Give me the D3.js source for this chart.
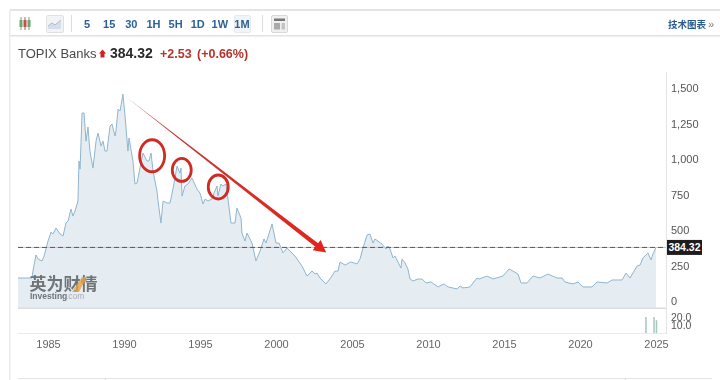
<!DOCTYPE html>
<html>
<head>
<meta charset="utf-8">
<script src="https://cdn.jsdelivr.net/npm/d3@7"></script>
<style>
  html, body { margin: 0; padding: 0; background: #fff; }
  svg { display: block; font-family: "Liberation Sans", Arial, sans-serif; filter: blur(0.35px); }
</style>
</head>
<body>
<div id="chart"></div>
<script>
const years = [1983.03,1983.95,1984.01,1984.21,1984.34,1984.61,1984.74,1985,1985.2,1985.33,1985.53,1985.79,1985.99,1986.18,1986.32,1986.51,1986.64,1986.78,1986.97,1987.04,1987.11,1987.24,1987.37,1987.5,1987.63,1987.76,1987.96,1988.16,1988.29,1988.49,1988.62,1988.75,1988.88,1989.08,1989.21,1989.41,1989.47,1989.61,1989.74,1989.93,1990.07,1990.26,1990.33,1990.59,1990.72,1990.86,1991.05,1991.25,1991.51,1991.64,1991.78,1991.91,1992.17,1992.24,1992.43,1992.57,1992.83,1993.03,1993.22,1993.49,1993.68,1993.75,1993.82,1994.01,1994.21,1994.47,1994.8,1995,1995.2,1995.33,1995.53,1995.79,1995.92,1996.12,1996.18,1996.38,1996.51,1996.71,1996.84,1997.04,1997.3,1997.43,1997.7,1997.76,1997.96,1998.09,1998.42,1998.68,1998.95,1999.21,1999.34,1999.74,2000,2000.2,2000.46,2000.72,2001.25,2001.71,2002.04,2002.37,2002.57,2002.7,2002.89,2003.29,2003.68,2003.88,2004.08,2004.21,2004.54,2004.93,2005.33,2005.53,2005.72,2005.99,2006.18,2006.38,2006.51,2006.97,2007.24,2007.37,2007.5,2007.7,2007.83,2008.22,2008.29,2008.49,2008.68,2008.82,2009.01,2009.34,2009.61,2009.87,2010.2,2010.66,2011.05,2011.32,2011.91,2012.11,2012.3,2012.76,2013.22,2013.36,2013.88,2014.28,2014.93,2015.33,2015.59,2015.92,2016.12,2016.51,2016.91,2017.37,2017.89,2018.49,2018.82,2019.01,2019.54,2019.87,2020.2,2020.79,2021.12,2021.78,2022.11,2022.76,2023.03,2023.29,2023.75,2023.95,2024.14,2024.47,2024.67,2024.8,2025]
const prices = [169,169,218,331,303,289,324,429,493,479,521,479,465,556,570,655,605,641,711,993,936,1331,1331,1133,1232,1063,943,1133,1190,1098,1133,1063,1063,1239,1253,1169,1204,1359,1345,1464,1309,1063,1155,993,831,838,943,1049,993,993,1049,922,781,711,556,711,697,697,796,957,908,943,746,817,831,873,796,767,690,725,711,725,767,817,746,831,817,831,725,556,556,662,591,486,429,486,415,289,359,444,415,549,415,415,345,380,324,253,183,218,197,204,169,127,183,218,218,282,260,282,268,303,380,472,479,415,444,408,373,394,373,310,324,239,303,275,232,162,148,162,162,134,141,106,127,106,92,113,99,106,169,162,183,162,183,232,218,197,134,134,183,169,197,169,169,141,127,141,106,106,141,134,155,155,204,169,253,260,310,345,296,338,384.32]

const volumeYears = [2024.34, 2024.87, 2025.03]
const volumes = [20, 20, 16]

const priceTicks = [0, 250, 500, 750, 1000, 1250, 1500]
const volumeTicks = [10, 20]
const yearTicks = [1985, 1990, 1995, 2000, 2005, 2010, 2015, 2020, 2025]
const intervals = ["5", "15", "30", "1H", "5H", "1D", "1W", "1M"]

const lastPrice = 384.32
const circleYears = [1991.85, 1993.8, 1996.2]
const circleValues = [1030, 930, 810]
const arrowFrom = [1989.95, 1460]
const arrowTo = [2003.3, 349]

const w = 720, h = 380
const svg = d3.select("#chart").append("svg").attr("width", w).attr("height", h)

const x = d3.scaleLinear([1985, 2025], [48, 656])
const y = d3.scaleLinear([0, 1500], [302, 89])
const yVol = d3.scaleLinear([0, 20], [333, 317])

const plotLeft = 18, plotRight = 666, plotBottom = 308

// frame and toolbar
svg.append("rect").attr("x", 10).attr("y", 9).attr("width", 710).attr("height", 2).attr("fill", "#e4e4e4")
svg.append("rect").attr("x", 10).attr("y", 35).attr("width", 710).attr("height", 1.5).attr("fill", "#e2e2e2")
svg.append("rect").attr("x", 9).attr("y", 10).attr("width", 1.5).attr("height", 370).attr("fill", "#ececec")

const bar = svg.append("g")
// candle icon
const candles = [[21, "#6fa56f"], [25, "#c0504d"], [29, "#6fa56f"]]
candles.forEach(c => {
  bar.append("line").attr("x1", c[0]).attr("x2", c[0]).attr("y1", 17).attr("y2", 30).attr("stroke", c[1])
  bar.append("rect").attr("x", c[0] - 1.5).attr("y", 20).attr("width", 3).attr("height", 7).attr("fill", c[1])
})
// line icon
bar.append("rect").attr("x", 46.5).attr("y", 15.5).attr("width", 17).attr("height", 17).attr("rx", 1.5)
  .attr("fill", "#f1f3f5").attr("stroke", "#e0e0e0")
bar.append("path").attr("d", "M48,29 L48,26 L52,23 L55,25 L61,20 L61,29 Z").attr("fill", "#d5dfe9")
bar.append("path").attr("d", "M48,26 L52,23 L55,25 L61,20").attr("fill", "none").attr("stroke", "#a9bccd")

bar.append("line").attr("x1", 71.5).attr("x2", 71.5).attr("y1", 15).attr("y2", 32).attr("stroke", "#dcdcdc")
bar.append("line").attr("x1", 262.5).attr("x2", 262.5).attr("y1", 15).attr("y2", 32).attr("stroke", "#dcdcdc")

bar.append("rect").attr("x", 234.5).attr("y", 15.5).attr("width", 16).attr("height", 17).attr("rx", 1.5)
  .attr("fill", "#f1f4f7").attr("stroke", "#e6e9ec")

const intervalX = d3.scalePoint(intervals, [87, 242])
bar.selectAll(".interval").data(intervals).enter().append("text")
  .attr("class", "interval")
  .attr("x", d => intervalX(d))
  .attr("y", 27.5)
  .attr("text-anchor", "middle")
  .attr("font-size", 11)
  .attr("font-weight", "bold")
  .attr("fill", "#2d6196")
  .text(d => d)

// table icon
bar.append("rect").attr("x", 271.5).attr("y", 15.5).attr("width", 16).attr("height", 17).attr("rx", 1.5)
  .attr("fill", "#f0f0f0").attr("stroke", "#d8d8d8")
bar.append("rect").attr("x", 274).attr("y", 18.5).attr("width", 11).attr("height", 2.5).attr("fill", "#777")
bar.append("rect").attr("x", 274).attr("y", 23).attr("width", 6).attr("height", 6.5).attr("fill", "#aaa")
bar.append("rect").attr("x", 281.5).attr("y", 23).attr("width", 3.5).attr("height", 6.5).attr("fill", "#c4c4c4")

bar.append("text").attr("x", 668).attr("y", 27.5)
  .attr("font-family", "'Noto Sans CJK SC'").attr("font-size", 9.5).attr("font-weight", "bold")
  .attr("fill", "#285a8c").text("技术图表")
bar.append("text").attr("x", 708).attr("y", 27.5).attr("font-size", 11).attr("fill", "#777").text("»")

// title
svg.append("text").attr("x", 18).attr("y", 58).attr("font-size", 13).attr("fill", "#4a4a4a").text("TOPIX Banks")
svg.append("path").attr("d", "M99,53.5 L102.5,49.5 L106,53.5 L104.5,53.5 L104.5,57.5 L100.5,57.5 L100.5,53.5 Z").attr("fill", "#c9241f")
svg.append("text").attr("x", 110).attr("y", 58).attr("font-size", 14).attr("font-weight", "bold").attr("fill", "#2a2a2a").text("384.32")
svg.append("text").attr("x", 160).attr("y", 58).attr("font-size", 12.5).attr("font-weight", "bold").attr("fill", "#b5342c").text("+2.53")
svg.append("text").attr("x", 197).attr("y", 58).attr("font-size", 12.5).attr("font-weight", "bold").attr("fill", "#b5342c").text("(+0.66%)")

// price area and line
const points = d3.zip(years, prices)
const area = d3.area().x(d => x(d[0])).y0(plotBottom).y1(d => y(d[1]))
const line = d3.line().x(d => x(d[0])).y(d => y(d[1]))

svg.append("path").datum(points).attr("d", area).attr("fill", "#e5edf3")
svg.append("path").datum(points).attr("d", line).attr("fill", "none").attr("stroke", "#8fb5cf").attr("stroke-width", 1)

// axis lines
svg.append("rect").attr("x", plotLeft).attr("y", plotBottom - 0.5).attr("width", plotRight - plotLeft).attr("height", 1.5).attr("fill", "#d9dde0")
svg.append("line").attr("x1", plotLeft).attr("x2", plotRight).attr("y1", 333.5).attr("y2", 333.5).attr("stroke", "#ebebeb")
svg.append("line").attr("x1", plotRight + 0.5).attr("x2", plotRight + 0.5).attr("y1", 72).attr("y2", 334).attr("stroke", "#e4e4e4")

// watermark
svg.append("text").attr("x", 29.5).attr("y", 289.5)
  .attr("font-family", "'Noto Sans CJK SC'").attr("font-size", 17).attr("font-weight", "bold")
  .attr("fill", "#6f7478").text("英为财情")
svg.append("path").attr("d", "M72,292 L82,277 L87,277 L79,292 Z").attr("fill", "#e8a33c").attr("opacity", 0.8)
svg.append("text").attr("x", 30).attr("y", 298.5).attr("font-size", 8.5).attr("font-weight", "bold").attr("fill", "#6f7478").text("Investing")
svg.append("text").attr("x", 66).attr("y", 298.5).attr("font-size", 8.5).attr("fill", "#a7adb2").text(".com")

// last price line
svg.append("line").attr("x1", plotLeft).attr("x2", plotRight).attr("y1", y(lastPrice)).attr("y2", y(lastPrice))
  .attr("stroke", "#e3b9c4").attr("stroke-width", 1)
svg.append("line").attr("x1", plotLeft).attr("x2", plotRight).attr("y1", y(lastPrice)).attr("y2", y(lastPrice))
  .attr("stroke", "#5a5a5a").attr("stroke-width", 1).attr("stroke-dasharray", "5,3")

// volume
svg.selectAll(".vol").data(volumes).enter().append("rect")
  .attr("class", "vol")
  .attr("x", (d, i) => x(volumeYears[i]) - 0.75)
  .attr("y", d => yVol(d))
  .attr("width", 1.5)
  .attr("height", d => yVol(0) - yVol(d))
  .attr("fill", "#a3c9ba")

// axes
const styleAxis = (g, size, color) => {
  g.select(".domain").remove()
  g.selectAll(".tick line").remove()
  g.selectAll("text").attr("font-size", size).attr("fill", color).attr("font-family", "'Liberation Sans', Arial, sans-serif")
}

svg.append("g").attr("transform", `translate(${plotRight + 5}, -1)`)
  .call(d3.axisRight(y).tickValues(priceTicks).tickFormat(d3.format(",")).tickSize(0).tickPadding(0))
  .call(g => styleAxis(g, 11, "#555"))

svg.append("g").attr("transform", `translate(${plotRight + 5}, 0)`)
  .call(d3.axisRight(yVol).tickValues(volumeTicks).tickFormat(d3.format(".1f")).tickSize(0).tickPadding(0))
  .call(g => styleAxis(g, 10.5, "#555"))

svg.append("g").attr("transform", "translate(0, 337)")
  .call(d3.axisBottom(x).tickValues(yearTicks).tickFormat(d3.format("d")).tickSize(0).tickPadding(3))
  .call(g => styleAxis(g, 11, "#666"))

// last price tag
svg.append("rect").attr("x", 667).attr("y", y(lastPrice) - 7.5).attr("width", 35).attr("height", 15).attr("fill", "#1d1d1d")
svg.append("text").attr("x", 684.5).attr("y", y(lastPrice) + 4).attr("text-anchor", "middle")
  .attr("font-size", 10.5).attr("font-weight", "bold").attr("fill", "#fff").text(lastPrice)

// hand drawn marks
const radii = [[12.5, 16], [9.5, 11.5], [10, 12]]
svg.selectAll(".ring").data(circleYears).enter().append("ellipse")
  .attr("class", "ring")
  .attr("cx", d => x(d))
  .attr("cy", (d, i) => y(circleValues[i]))
  .attr("rx", (d, i) => radii[i][0])
  .attr("ry", (d, i) => radii[i][1])
  .attr("fill", "none")
  .attr("stroke", "#d02a24")
  .attr("stroke-width", 2.8)

const ax = x(arrowFrom[0]), ay = y(arrowFrom[1]), bx = x(arrowTo[0]), by = y(arrowTo[1])
const len = Math.hypot(bx - ax, by - ay)
const ux = (bx - ax) / len, uy = (by - ay) / len
const nx = -uy, ny = ux
const neck = [bx - ux * 12, by - uy * 12]
const arrowPts = [
  [ax, ay],
  [neck[0] + nx * 2.2, neck[1] + ny * 2.2],
  [neck[0] + nx * 6.5, neck[1] + ny * 6.5],
  [bx, by],
  [neck[0] - nx * 6.5, neck[1] - ny * 6.5],
  [neck[0] - nx * 2.2, neck[1] - ny * 2.2]
]
const grad = svg.append("defs").append("linearGradient").attr("id", "arrowFade")
  .attr("gradientUnits", "userSpaceOnUse").attr("x1", ax).attr("y1", ay).attr("x2", bx).attr("y2", by)
grad.append("stop").attr("offset", "0").attr("stop-color", "#d9a0a0")
grad.append("stop").attr("offset", "0.25").attr("stop-color", "#c03a36")
grad.append("stop").attr("offset", "1").attr("stop-color", "#e6231a")
svg.append("polygon").attr("points", arrowPts.join(" ")).attr("fill", "url(#arrowFade)")

// bottom strip
svg.append("line").attr("x1", 18).attr("x2", 712).attr("y1", 378.5).attr("y2", 378.5).attr("stroke", "#e4e4e4")
const stripDividers = [105, 625]
stripDividers.forEach(d => svg.append("line").attr("x1", d + 0.5).attr("x2", d + 0.5).attr("y1", 378).attr("y2", 380).attr("stroke", "#ddd"))
</script>
</body>
</html>
